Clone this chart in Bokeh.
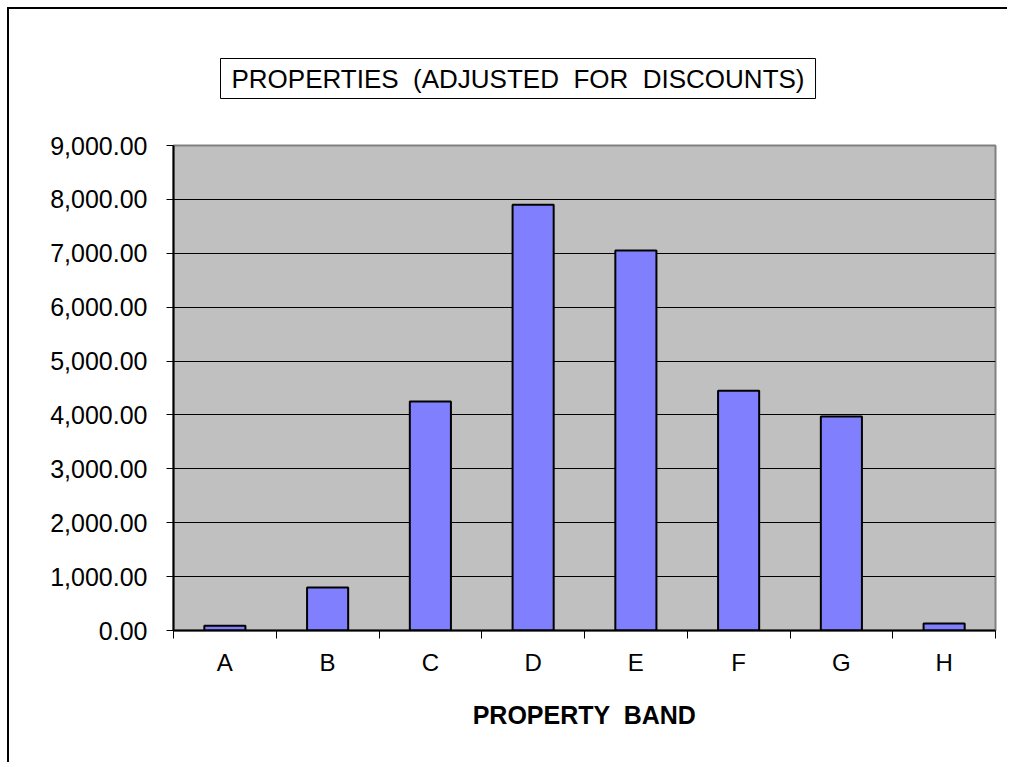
from bokeh.plotting import figure
from bokeh.models import (ColumnDataSource, FixedTicker, NumeralTickFormatter,
                          SingleIntervalTicker, Title, Range1d)
from bokeh.embed import file_html
from bokeh.resources import INLINE

# ---- data ----
bands = ["A", "B", "C", "D", "E", "F", "G", "H"]
values = [90, 800, 4250, 7900, 7050, 4450, 3970, 130]
y_max = 9000
y_step = 1000
title_text = "PROPERTIES \u00a0(ADJUSTED \u00a0FOR \u00a0DISCOUNTS)"
x_title = "PROPERTY \u00a0BAND"

FONT = "Liberation Sans"

n = len(bands)
centers = [i + 0.5 for i in range(n)]
src = ColumnDataSource(dict(x=centers, top=values, band=bands))

p = figure(width=1000, height=755, output_backend="svg", toolbar_location=None,
           x_range=Range1d(0, n), y_range=Range1d(0, y_max),
           min_border_left=164, min_border_right=14,
           min_border_top=136, min_border_bottom=134)
p.styles = {"margin-left": "7px", "margin-top": "7px",
            "border-left": "2px solid black", "border-top": "2px solid black"}

p.background_fill_color = "#C0C0C0"
p.border_fill_color = "white"
p.outline_line_color = "#808080"
p.outline_line_width = 2

p.vbar(x="x", top="top", bottom=0, width=0.4, source=src,
       fill_color="#8080FF", line_color="black", line_width=2)

# y axis
p.yaxis.ticker = SingleIntervalTicker(interval=y_step)
p.yaxis.formatter = NumeralTickFormatter(format="0,0.00")
p.yaxis.major_label_text_font = FONT
p.yaxis.major_label_text_font_size = "25px"
p.yaxis.major_label_text_color = "black"
p.yaxis.major_tick_out = 7
p.yaxis.major_tick_in = 0
p.yaxis.minor_tick_line_color = None
p.yaxis.axis_line_color = "black"
p.yaxis.axis_line_width = 2
p.yaxis.major_tick_line_width = 1
p.yaxis.major_label_standoff = 19

# x axis: labels at centres, tick marks at category boundaries
p.xaxis.ticker = FixedTicker(ticks=centers, minor_ticks=list(range(n + 1)))
p.xaxis.major_label_overrides = {c: b for c, b in zip(centers, bands)}
p.xaxis.major_tick_out = 0
p.xaxis.major_tick_in = 0
p.xaxis.minor_tick_out = 8
p.xaxis.minor_tick_in = 0
p.xaxis.minor_tick_line_color = "black"
p.xaxis.axis_line_color = "black"
p.xaxis.axis_line_width = 2
p.xaxis.major_label_text_font = FONT
p.xaxis.major_label_text_font_size = "24px"
p.xaxis.major_label_text_color = "black"
p.xaxis.major_label_standoff = 10
p.xaxis.axis_label = x_title
p.xaxis.axis_label_text_font = FONT
p.xaxis.axis_label_text_font_size = "25px"
p.xaxis.axis_label_text_font_style = "bold"
p.xaxis.axis_label_text_color = "black"
p.xaxis.axis_label_standoff = 22

p.xgrid.grid_line_color = None
p.ygrid.ticker = SingleIntervalTicker(interval=y_step)
p.ygrid.grid_line_color = "black"
p.ygrid.grid_line_width = 1

title = Title(text=title_text, align="left", offset=47, standoff=94,
              text_font=FONT, text_font_size="26px", text_color="black",
              text_font_style="normal",
              border_line_color="black", border_line_width=1,
              background_fill_color="white", padding=(11, 5))
p.add_layout(title, "above")

open("out.html", "w").write(file_html(p, INLINE))
